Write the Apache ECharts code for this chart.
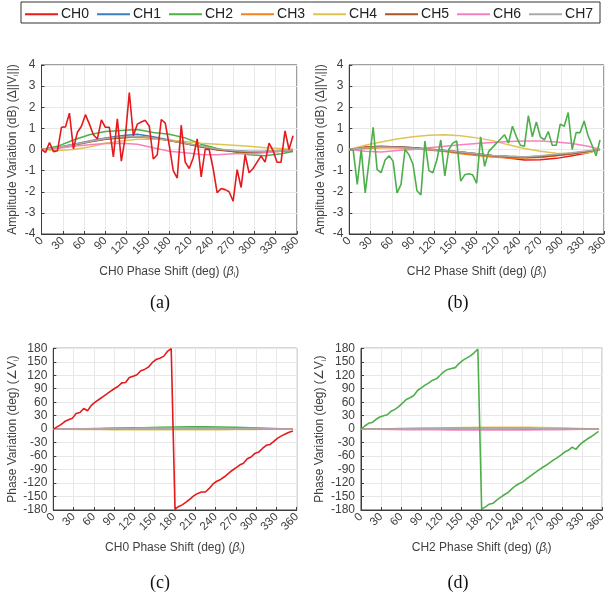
<!DOCTYPE html>
<html><head><meta charset="utf-8">
<script src="https://cdn.jsdelivr.net/npm/echarts@6/dist/echarts.min.js"></script>
<style>html,body{margin:0;padding:0;background:#fff}#c{width:611px;height:597px}</style>
</head><body><div id="c"></div>
<script>
const channels = ['CH0','CH1','CH2','CH3','CH4','CH5','CH6','CH7'];
const colors = ['#e41a1c','#3a80c0','#4daf4a','#f5821f','#e0c452','#a65628','#f781bf','#aaaaaa'];

// phase-shift settings (6-bit, 5.625 deg step)
const shiftFine = [0,5.625,11.25,16.875,22.5,28.125,33.75,39.375,45,50.625,56.25,61.875,67.5,73.125,78.75,84.375,
  90,95.625,101.25,106.875,112.5,118.125,123.75,129.375,135,140.625,146.25,151.875,157.5,163.125,168.75,174.375,
  180,185.625,191.25,196.875,202.5,208.125,213.75,219.375,225,230.625,236.25,241.875,247.5,253.125,258.75,264.375,
  270,275.625,281.25,286.875,292.5,298.125,303.75,309.375,315,320.625,326.25,331.875,337.5,343.125,348.75,354.375];
const shiftCoarse = [0,22.5,45,67.5,90,112.5,135,157.5,180,202.5,225,247.5,270,292.5,315,337.5,354.375];

const xTicks = [0,30,60,90,120,150,180,210,240,270,300,330,360];
const ampTicks = [-4,-3,-2,-1,0,1,2,3,4];
const phaseTicks = [-180,-150,-120,-90,-60,-30,0,30,60,90,120,150,180];

// (a) amplitude variation, CH0 swept
const aCH0 = [0,-0.14,0.33,-0.1,-0.06,1.05,1.07,1.72,0.03,0.82,1.1,1.65,1.2,0.7,0.5,1.4,
  1.05,1.05,-0.35,1.45,-0.55,0.6,2.7,0.65,1.2,1.3,1.38,1.1,-0.45,-0.25,1.42,1.25,
  0.2,-1.0,-1.35,1.15,-0.6,-0.9,-0.4,0.5,-1.3,0,0,-0.9,-2.05,-1.85,-1.9,-2.0,
  -2.45,-0.95,-1.8,-0.25,-1.1,-0.9,-0.6,-0.3,-0.6,0.3,-0.05,-0.6,-0.6,0.88,0,0.65];
const aCH1 = [0,0.1,0.25,0.4,0.55,0.65,0.72,0.6,0.45,0.3,0.15,0.0,-0.05,-0.1,-0.1,-0.05,0];
const aCH2 = [0,0.15,0.45,0.7,0.85,0.9,0.95,0.8,0.72,0.55,0.25,0.05,-0.1,-0.25,-0.3,-0.2,-0.1];
const aCH3 = [0,0.08,0.22,0.38,0.5,0.58,0.62,0.55,0.42,0.28,0.12,0.0,-0.08,-0.12,-0.1,-0.05,-0.02];
const aCH4 = [0,-0.05,0.0,0.12,0.3,0.4,0.48,0.5,0.45,0.38,0.3,0.25,0.2,0.15,0.08,0.05,0.0];
const aCH5 = [0,0.08,0.2,0.35,0.48,0.55,0.6,0.55,0.42,0.28,0.12,-0.02,-0.1,-0.15,-0.12,-0.08,-0.05];
const aCH6 = [0,0.05,0.15,0.22,0.28,0.3,0.25,0.08,-0.08,-0.15,-0.24,-0.25,-0.2,-0.2,-0.15,-0.08,0];
const aCH7 = [0,0.1,0.22,0.38,0.52,0.6,0.62,0.55,0.42,0.3,0.15,0.02,-0.05,-0.1,-0.08,-0.03,0];

// (b) amplitude variation, CH2 swept
const bCH0 = [0,0.12,0.15,0.12,0.08,0.02,-0.05,-0.12,-0.2,-0.3,-0.4,-0.5,-0.48,-0.42,-0.3,-0.15,0];
const bCH1 = [0,0.08,0.12,0.12,0.08,0.0,-0.06,-0.12,-0.2,-0.28,-0.32,-0.35,-0.32,-0.25,-0.18,-0.08,0];
const bCH2 = [0,-0.05,-1.65,0,-2.05,-0.5,1.05,-0.95,-1.1,-0.5,-0.3,-0.55,-2.05,-1.65,0,-0.25,
  -0.7,-1.95,-2.15,0.4,-1.0,-1.1,-0.5,0.45,-1.25,0,0.3,0.4,-1.5,-1.2,-1.15,-1.2,
  -1.6,0.6,-0.8,-0.1,0.1,0.3,0.5,0.7,0.3,1.1,0.6,0.2,0.15,1.6,0.6,1.3,
  0.6,0.45,0.85,0.2,0.2,1.2,1.1,1.75,0,0.8,0.8,1.35,0.65,0.2,-0.3,0.45];
const bCH3 = [0,0.05,0.08,0.08,0.05,-0.02,-0.1,-0.2,-0.28,-0.35,-0.4,-0.4,-0.38,-0.3,-0.2,-0.1,0];
const bCH4 = [0,0.2,0.35,0.5,0.6,0.68,0.7,0.65,0.55,0.42,0.22,0.05,-0.08,-0.18,-0.2,-0.15,0];
const bCH5 = [0,0.1,0.12,0.12,0.08,0.0,-0.06,-0.14,-0.22,-0.3,-0.35,-0.38,-0.35,-0.28,-0.2,-0.1,0];
const bCH6 = [0,-0.08,-0.12,-0.05,0.0,0.08,0.15,0.22,0.28,0.33,0.38,0.4,0.4,0.35,0.28,0.15,0];
const bCH7 = [0,0.08,0.12,0.1,0.06,0.0,-0.05,-0.12,-0.2,-0.28,-0.32,-0.35,-0.3,-0.22,-0.15,-0.06,0];

// (c) phase variation, CH0 swept
const cCH0 = [0,5,10,17,21,24,35,37,46,41,53,60,66,72,78,84,
  90,95,103,104,115,118,121,130,133,138,148,155,158,162,173,179,
  -178,-172,-168,-162,-155,-148,-143,-140,-140,-132,-122,-116,-112,-106,-99,-92,
  -86,-80,-76,-66,-62,-54,-51,-43,-36,-34,-27,-20,-15,-11,-7,-4];
const cCH1 = [0,0.3,0.6,1,1.3,1.6,2,2.3,2.5,2.5,2.3,2,1.6,1.2,0.8,0.4,0];
const cCH2 = [0,0.5,1,1.5,2,2.5,3,4,5,5.5,5.5,5,4,3,2,1,0.5];
const cCH3 = [0,0.4,0.8,1.1,1.4,1.7,1.9,2.1,2.2,2.2,2.1,1.9,1.6,1.2,0.8,0.4,0];
const cCH4 = [0,-0.3,-0.6,-0.9,-1.1,-1.3,-1.4,-1.5,-1.5,-1.4,-1.3,-1.1,-0.9,-0.7,-0.5,-0.3,0];
const cCH5 = [0,0.2,0.5,0.8,1,1.2,1.4,1.5,1.6,1.6,1.5,1.4,1.2,0.9,0.6,0.3,0];
const cCH6 = [0,0.4,0.8,1.1,1.4,1.7,2,2.2,2.3,2.3,2.2,2,1.7,1.3,0.9,0.5,0];
const cCH7 = [0,0.2,0.4,0.6,0.8,1,1.2,1.3,1.4,1.4,1.3,1.2,1,0.8,0.5,0.3,0];

// (d) phase variation, CH2 swept
const dCH0 = [0,0.2,0.4,0.5,0.6,0.7,0.8,0.8,0.8,0.8,0.7,0.6,0.5,0.4,0.3,0.1,0];
const dCH1 = [0,0.3,0.6,0.9,1.2,1.5,1.7,1.9,2,2,1.9,1.7,1.5,1.2,0.8,0.4,0];
const dCH2 = [0,7,13,15,22,27,30,32,40,44,50,58,66,70,75,86,
  92,98,103,109,112,120,128,133,135,137,146,153,158,163,170,178,
  -178,-173,-167,-165,-158,-152,-146,-141,-133,-126,-121,-117,-110,-104,-98,-92,
  -86,-81,-75,-69,-64,-58,-51,-47,-40,-45,-35,-28,-22,-17,-11,-5];
const dCH3 = [0,0.4,0.8,1.2,1.5,1.8,2,2.2,2.3,2.3,2.2,2,1.7,1.3,0.9,0.5,0];
const dCH4 = [0,0.5,1,1.5,2,2.5,3,3.5,4,4.3,4.5,4.3,3.8,3,2,1,0.3];
const dCH5 = [0,0.2,0.4,0.6,0.8,1,1.2,1.3,1.4,1.4,1.3,1.2,1,0.8,0.5,0.3,0];
const dCH6 = [0,-0.4,-0.8,-1.1,-1.4,-1.6,-1.8,-2,-2.1,-2.1,-2,-1.8,-1.6,-1.3,-0.9,-0.5,0];
const dCH7 = [0,0.3,0.5,0.8,1,1.2,1.4,1.5,1.6,1.6,1.5,1.4,1.2,0.9,0.6,0.3,0];

const panelData = [
  [aCH0,aCH1,aCH2,aCH3,aCH4,aCH5,aCH6,aCH7],
  [bCH0,bCH1,bCH2,bCH3,bCH4,bCH5,bCH6,bCH7],
  [cCH0,cCH1,cCH2,cCH3,cCH4,cCH5,cCH6,cCH7],
  [dCH0,dCH1,dCH2,dCH3,dCH4,dCH5,dCH6,dCH7]
];
const sweptCh = ['CH0','CH2','CH0','CH2'];
const captions = ['(a)','(b)','(c)','(d)'];

const grids = [
  {left:41.5, top:65, width:255.5, height:169},
  {left:349.3, top:65, width:254.7, height:169},
  {left:53.3, top:348.3, width:243.4, height:161.7},
  {left:361, top:348.3, width:241.3, height:161.7}
];
const captionPos = [[160,303],[458,303],[160,583],[458,583]];

const axisColor = '#3d3d3d';
const labelColor = '#404040';
const gridColor = '#e8e8e8';
const font = 'Liberation Sans, Arial, Helvetica, sans-serif';

const rich = {
  it: {fontStyle:'italic', fontSize:12, color:labelColor, fontFamily:font},
  sub: {fontSize:7, color:labelColor, fontFamily:font, padding:[7,0,0,0]}
};

const option = {
  backgroundColor:'#fff',
  animation:false,
  textStyle:{fontFamily:font},
  legend:{
    data: channels, left:25, top:7.3, padding:0, itemWidth:33, itemHeight:12, itemGap:8,
    textStyle:{fontSize:14, color:'#222', fontFamily:font, padding:[0,0,0,-2]},
    icon:'path://M0,5 L33,5 L33,7 L0,7 Z'
  },
  color: colors,
  grid: grids.map(g => Object.assign({show:true, borderColor:axisColor, borderWidth:1, containLabel:false}, g)),
  xAxis: grids.map((g,i) => ({
    type:'value', gridIndex:i, min:0, max:360, interval:30,
    name: sweptCh[i] + ' Phase Shift (deg) ({it|β}{sub|i})',
    nameLocation:'middle', nameGap: 31,
    nameTextStyle:{fontSize:12, color:labelColor, fontFamily:font, rich: rich},
    axisLine:{show:true, onZero:false, lineStyle:{color:axisColor}},
    axisTick:{show:true, inside:true, length:3, lineStyle:{color:axisColor}},
    axisLabel:{rotate:45, fontSize:11.5, color:labelColor, margin:5, showMaxLabel:true, showMinLabel:true},
    splitLine:{show:true, lineStyle:{color:gridColor, width:1}}
  })),
  yAxis: grids.map((g,i) => {
    const amp = i < 2;
    const t = amp ? ampTicks : phaseTicks;
    return {
      type:'value', gridIndex:i, min:t[0], max:t[t.length-1], interval: t[1]-t[0],
      name: amp ? 'Amplitude Variation (dB) (Δ||V{sub|i}||)' : 'Phase Variation (deg) (∠V{sub|i})',
      nameLocation:'middle', nameGap: amp ? 22 : 30, nameRotate:90,
      nameTextStyle:{fontSize:12, color:labelColor, fontFamily:font, rich: rich},
      axisLine:{show:true, onZero:false, lineStyle:{color:axisColor}},
      axisTick:{show:true, inside:true, length:3, lineStyle:{color:axisColor}},
      axisLabel:{fontSize:12, color:labelColor, margin:6},
      splitLine:{show:true, lineStyle:{color:gridColor, width:1}}
    };
  }),
  series: [],
  graphic: [
    {type:'rect', shape:{x:21, y:2, width:579, height:21}, style:{fill:'none', stroke:'#333', lineWidth:1}, z:100}
  ]
};

panelData.forEach((arrs, p) => {
  arrs.forEach((ys, c) => {
    const xs = ys.length === shiftFine.length ? shiftFine : shiftCoarse;
    option.series.push({
      type:'line', name: channels[c], xAxisIndex:p, yAxisIndex:p,
      data: ys.map((y,k) => [xs[k], y]),
      symbol:'none', smooth:false,
      lineStyle:{width: ys.length === shiftFine.length ? 1.6 : 1.5, color: colors[c]},
      itemStyle:{color: colors[c]},
      z: ys.length === shiftFine.length ? 3 : 2
    });
  });
  option.graphic.push({
    type:'text', x: captionPos[p][0], y: captionPos[p][1],
    style:{text: captions[p], font:'18px "Liberation Serif", "Times New Roman", serif', fill:'#111', textAlign:'center', textVerticalAlign:'middle'}
  });
});

const chart = echarts.init(document.getElementById('c'), null, {renderer:'canvas'});
chart.setOption(option);
</script>
</body></html>
